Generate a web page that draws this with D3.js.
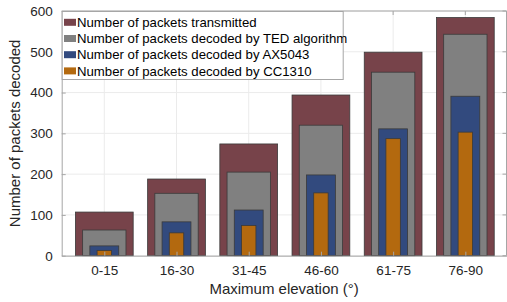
<!DOCTYPE html>
<html>
<head>
<meta charset="utf-8">
<script src="https://cdn.jsdelivr.net/npm/d3@7"></script>
<style>
  body { margin: 0; background: #fff; }
  text { font-family: "Liberation Sans", Arial, sans-serif; }
</style>
</head>
<body>
<div id="chart"></div>
<script>
// data
const categories = ['0-15', '16-30', '31-45', '46-60', '61-75', '76-90'];
const transmitted = [107, 188, 274, 394, 499, 584];
const decodedTED = [63, 153, 205, 320, 450, 543];
const decodedAX5043 = [24, 83, 112, 198, 311, 391];
const decodedCC1310 = [13, 56, 74, 154, 287, 303];
const yTicks = [0, 100, 200, 300, 400, 500, 600];

const seriesNames = [
    'Number of packets transmitted',
    'Number of packets decoded by TED algorithm',
    'Number of packets decoded by AX5043',
    'Number of packets decoded by CC1310'
];
const seriesColors = ['#77434a', '#808080', '#324a7e', '#b3690f'];
const seriesWidths = [0.8, 0.6, 0.4, 0.2];
const allSeries = [transmitted, decodedTED, decodedAX5043, decodedCC1310];

// layout
const W = 507, H = 302;
const plot = {left: 61.7, right: 506.5, top: 11, bottom: 255.7};

const svg = d3.select('#chart').append('svg')
    .attr('width', W)
    .attr('height', H);

// scales
let x = d3.scaleLinear()
    .domain([0.41, 6.57])
    .range([plot.left, plot.right]);
let y = d3.scaleLinear()
    .domain([0, 600])
    .range([plot.bottom, plot.top]);
const step = x(2) - x(1);

// grid
let grid = svg.append('g').attr('class', 'grid');
grid.selectAll('line.gy')
    .data(yTicks)
    .enter()
    .append('line')
    .attr('x1', plot.left).attr('x2', plot.right)
    .attr('y1', d => y(d)).attr('y2', d => y(d))
    .attr('stroke', '#ebebeb').attr('stroke-width', 1);
grid.selectAll('line.gx')
    .data(categories)
    .enter()
    .append('line')
    .attr('x1', (d, i) => x(i + 1)).attr('x2', (d, i) => x(i + 1))
    .attr('y1', plot.top).attr('y2', plot.bottom)
    .attr('stroke', '#ebebeb').attr('stroke-width', 1);

// bars, widest first so the narrow ones sit on top
allSeries.forEach(function(vals, s) {
    svg.append('g')
        .selectAll('rect')
        .data(vals)
        .enter()
        .append('rect')
        .attr('x', (d, i) => x(i + 1) - step * seriesWidths[s] / 2)
        .attr('width', step * seriesWidths[s])
        .attr('y', d => y(d))
        .attr('height', d => y(0) - y(d))
        .attr('fill', seriesColors[s])
        .attr('stroke', '#3a3a3a')
        .attr('stroke-width', 0.8);
});

// axes (MATLAB style, ticks inward, gray box)
const axisColor = '#a6a6a6';
let xAxis = d3.axisBottom(x)
    .tickValues(d3.range(1, categories.length + 1))
    .tickFormat(d => categories[d - 1])
    .tickSizeInner(-4)
    .tickSizeOuter(0)
    .tickPadding(10);
let gx = svg.append('g')
    .attr('transform', `translate(0,${plot.bottom})`)
    .call(xAxis);

let yAxis = d3.axisLeft(y)
    .tickValues(yTicks)
    .tickSizeInner(-4)
    .tickSizeOuter(0)
    .tickPadding(9);
let gy = svg.append('g')
    .attr('transform', `translate(${plot.left},0)`)
    .call(yAxis);

[gx, gy].forEach(function(g) {
    g.select('.domain').attr('stroke', axisColor);
    g.selectAll('.tick line').attr('stroke', axisColor);
    g.selectAll('.tick text')
        .attr('fill', '#262626')
        .style('font-size', '13.5px');
});

// top and right box lines with ticks
svg.append('line')
    .attr('x1', plot.left).attr('x2', plot.right)
    .attr('y1', plot.top).attr('y2', plot.top)
    .attr('stroke', axisColor);
svg.append('line')
    .attr('x1', plot.right).attr('x2', plot.right)
    .attr('y1', plot.top).attr('y2', plot.bottom)
    .attr('stroke', axisColor);
svg.append('g').selectAll('line')
    .data(d3.range(1, categories.length + 1))
    .enter()
    .append('line')
    .attr('x1', d => x(d)).attr('x2', d => x(d))
    .attr('y1', plot.top).attr('y2', plot.top + 4)
    .attr('stroke', axisColor);
svg.append('g').selectAll('line')
    .data(yTicks)
    .enter()
    .append('line')
    .attr('x1', plot.right - 4).attr('x2', plot.right)
    .attr('y1', d => y(d)).attr('y2', d => y(d))
    .attr('stroke', axisColor);

// axis labels
svg.append('text')
    .attr('x', (plot.left + plot.right) / 2)
    .attr('y', 294)
    .attr('text-anchor', 'middle')
    .attr('fill', '#262626')
    .style('font-size', '15px')
    .text('Maximum elevation (°)');
svg.append('text')
    .attr('transform', `translate(20,${(plot.top + plot.bottom) / 2}) rotate(-90)`)
    .attr('text-anchor', 'middle')
    .attr('fill', '#262626')
    .style('font-size', '15px')
    .text('Number of packets decoded');

// legend
let leg = svg.append('g').attr('class', 'legend');
leg.append('rect')
    .attr('x', plot.left + 0.5)
    .attr('y', plot.top + 0.5)
    .attr('width', 281)
    .attr('height', 68)
    .attr('fill', '#fff')
    .attr('stroke', '#a6a6a6');
let rows = leg.selectAll('g.row')
    .data(seriesNames)
    .enter()
    .append('g')
    .attr('transform', (d, i) => `translate(0,${22.3 + i * 16.2})`);
rows.append('rect')
    .attr('x', 64)
    .attr('y', -3.5)
    .attr('width', 12)
    .attr('height', 7)
    .attr('fill', (d, i) => seriesColors[i]);
rows.append('text')
    .attr('x', 77)
    .attr('y', 4.7)
    .attr('fill', '#000')
    .style('font-size', '13.2px')
    .text(d => d);
</script>
</body>
</html>
